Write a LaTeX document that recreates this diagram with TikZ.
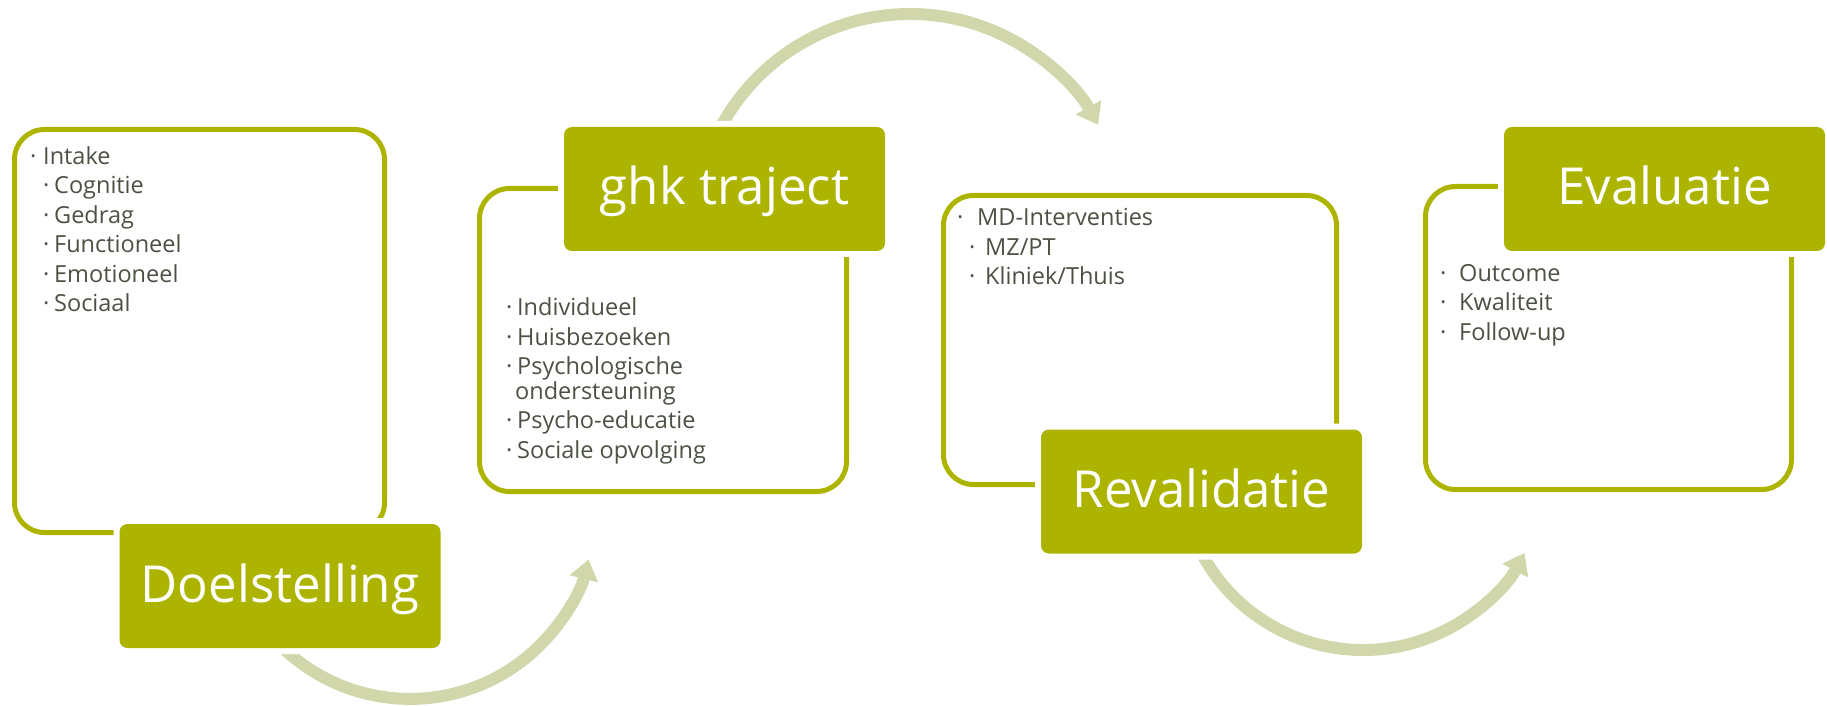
\documentclass[tikz,border=0pt]{standalone}
\usepackage{fontspec}
\setmainfont{Open Sans}
\usetikzlibrary{arrows.meta,backgrounds}
\definecolor{olijf}{RGB}{173,180,0}
\definecolor{pijl}{RGB}{210,214,171}
\definecolor{tekst}{RGB}{75,82,67}
\newcommand{\bol}[2]{\hspace*{#1}\makebox[#2][l]{·}}
\tikzset{
	kader/.style={draw=olijf,line width=5pt,rounded corners=30pt,inner sep=0pt},
	titel/.style={fill=olijf,rounded corners=8pt,text=white,minimum width=321pt,minimum height=124pt,inner sep=0pt,
		text height=38pt,text depth=6pt,font=\fontsize{51}{60}\selectfont,preaction={draw=white,line width=12pt}},
	lijst/.style={anchor=base west,align=left,inner sep=0pt,text=tekst,font=\fontsize{23.5}{29.5}\selectfont},
	boog/.style={draw=pijl,line width=12pt,-{Triangle[width=28pt,length=20pt]}}
}
\begin{document}
\begin{tikzpicture}[x=1pt,y=1pt]
	\useasboundingbox (0,0) rectangle (1827,705);
	%kaders
	\node[kader,minimum width=370pt,minimum height=403pt] (k1) at (199.5,374) {};
	\node[kader,minimum width=367pt,minimum height=303pt] (k2) at (663,365) {};
	\node[kader,minimum width=393pt,minimum height=289pt] (k3) at (1140,365) {};
	\node[kader,minimum width=366pt,minimum height=303pt] (k4) at (1608.5,367) {};
	
	%lijsten (base = laatste regel)
	\node[lijst] (l1) at (30,393) {\bol{0pt}{13pt}Intake\\ \bol{13pt}{11pt}Cognitie\\ \bol{13pt}{11pt}Gedrag\\ \bol{13pt}{11pt}Functioneel\\ \bol{13pt}{11pt}Emotioneel\\ \bol{13pt}{11pt}Sociaal};
	\node[lijst] (l2) at (506,247) {\bol{0pt}{11pt}Individueel\\ \bol{0pt}{11pt}Huisbezoeken\\ \bol{0pt}{11pt}Psychologische\\[-5pt] \hspace*{9pt}ondersteuning\\ \bol{0pt}{11pt}Psycho-educatie\\ \bol{0pt}{11pt}Sociale opvolging};
	\node[lijst] (l3) at (957,420) {\bol{0pt}{20pt}MD-Interventies\\ \bol{12pt}{16pt}MZ/PT\\ \bol{12pt}{16pt}Kliniek/Thuis};
	\node[lijst] (l4) at (1440,365) {\bol{0pt}{19pt}Outcome\\ \bol{0pt}{19pt}Kwaliteit\\ \bol{0pt}{19pt}Follow-up};
	
	%titels
	\node[titel] (D) at (280,119) {Doelstelling};
	\node[titel] (G) at (724.5,516) {ghk traject};
	\node[titel] (R) at (1201.5,213.5) {Revalidatie};
	\node[titel] (Ev) at (1664.5,516) {Evaluatie};
	
	%pijlen
	\begin{scope}[on background layer]
		\coordinate (b1) at (280,60); \coordinate (b2) at (720.2,576.9); \coordinate (b3) at (1198.5,157.8);
		\draw[boog] (b1) arc[start angle=225,end angle=346,radius=184pt];
		\draw[boog] (b2) arc[start angle=152,end angle=29,radius=215pt];
		\draw[boog] (b3) arc[start angle=206,end angle=332,radius=183pt];
	\end{scope}
\end{tikzpicture}
\end{document}
